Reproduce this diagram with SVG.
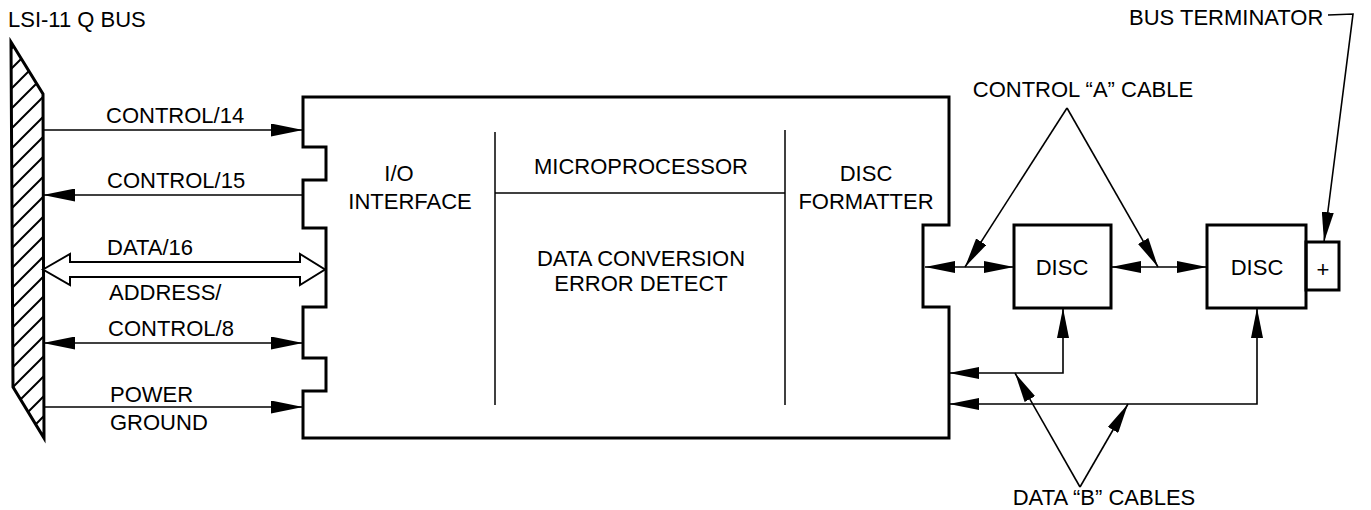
<svg xmlns="http://www.w3.org/2000/svg" width="1371" height="510" viewBox="0 0 1371 510">
<style>
text{font-family:"Liberation Sans",Arial,sans-serif;font-size:22px;fill:#000}
.mid{text-anchor:middle}
.box{fill:none;stroke:#000;stroke-width:3;stroke-linejoin:miter}
.thin{fill:none;stroke:#000;stroke-width:1.5}
.conn{fill:none;stroke:#000;stroke-width:1.6}
</style>
<defs>
<marker id="ah" markerUnits="userSpaceOnUse" markerWidth="32" markerHeight="13" refX="32" refY="6.5" orient="auto-start-reverse"><path d="M0,0 L32,6.5 L0,13 z" fill="#000"/></marker>
<marker id="as" markerUnits="userSpaceOnUse" markerWidth="30" markerHeight="12" refX="30" refY="6" orient="auto-start-reverse"><path d="M0,0 L30,6 L0,12 z" fill="#000"/></marker>
<pattern id="hatch" patternUnits="userSpaceOnUse" width="20" height="20"><path d="M-5,5 L5,-5 M0,20 L20,0 M15,25 L25,15" stroke="#000" stroke-width="2"/></pattern>
<clipPath id="barclip"><polygon points="11,42 43,94 44,438 13,387"/></clipPath>
</defs>

<g id="bus">
<rect x="0" y="40" width="50" height="400" fill="url(#hatch)" clip-path="url(#barclip)"/>
<polygon points="11,42 43,94 44,438 13,387" class="box" stroke-width="2.5"/>
<text x="8" y="27" font-size="21">LSI-11 Q BUS</text>
</g>

<g id="controller">
<path class="box" d="M303,97 H949 V225 H923 V307 H949 V438 H303 V391 H326 V358 H303 V307 H326 V228 H303 V180 H326 V147 H303 Z"/>
<line class="thin" x1="495" y1="132" x2="495" y2="405"/>
<line class="thin" x1="785" y1="130" x2="785" y2="405"/>
<line class="thin" x1="495" y1="193" x2="785" y2="193"/>
<text class="mid" x="399" y="181">I/O</text>
<text class="mid" x="410" y="209">INTERFACE</text>
<text class="mid" x="641" y="174" font-size="21.5">MICROPROCESSOR</text>
<text class="mid" x="641" y="266" font-size="21.5">DATA CONVERSION</text>
<text class="mid" x="641" y="291" font-size="21.5">ERROR DETECT</text>
<text class="mid" x="866" y="181">DISC</text>
<text class="mid" x="866" y="209">FORMATTER</text>
</g>

<g id="disc1">
<rect class="box" x="1014" y="225" width="97" height="83"/>
<text class="mid" x="1062" y="275">DISC</text>
</g>
<g id="disc2">
<rect class="box" x="1207" y="225" width="99" height="83"/>
<text class="mid" x="1257" y="275">DISC</text>
</g>
<g id="terminator">
<rect class="box" x="1306" y="242" width="33" height="48"/>
<text class="mid" x="1323" y="277" font-size="26">+</text>
<text x="1129" y="25" font-size="21">BUS TERMINATOR</text>
</g>

<g id="connectors">
<line class="conn" x1="43" y1="130" x2="303" y2="130" marker-end="url(#ah)"/>
<line class="conn" x1="303" y1="195" x2="43" y2="195" marker-end="url(#ah)"/>
<polygon points="43,269.5 70,254 70,262 300,262 300,254 325,269.5 300,285 300,277 70,277 70,285" fill="#fff" stroke="#000" stroke-width="2" stroke-linejoin="miter"/>
<line class="conn" x1="43" y1="343" x2="303" y2="343" marker-start="url(#ah)" marker-end="url(#ah)"/>
<line class="conn" x1="43" y1="407" x2="303" y2="407" marker-end="url(#ah)"/>

<line class="conn" x1="925" y1="267" x2="1014" y2="267" marker-start="url(#as)" marker-end="url(#as)"/>
<line class="conn" x1="1111" y1="267" x2="1207" y2="267" marker-start="url(#as)" marker-end="url(#as)"/>
<line class="conn" x1="1067" y1="108" x2="965" y2="267" marker-end="url(#as)"/>
<line class="conn" x1="1067" y1="108" x2="1158" y2="267" marker-end="url(#as)"/>

<path class="conn" d="M949,373 H1063 V308" marker-start="url(#as)" marker-end="url(#as)"/>
<path class="conn" d="M949,404 H1257 V308" marker-start="url(#as)" marker-end="url(#as)"/>
<line class="conn" x1="1080" y1="487" x2="1015" y2="373" marker-end="url(#as)"/>
<line class="conn" x1="1080" y1="487" x2="1128" y2="404" marker-end="url(#as)"/>

<polyline class="conn" points="1328,15 1353,14 1324,242" marker-end="url(#as)"/>
</g>

<g id="labels">
<text x="106" y="123">CONTROL/14</text>
<text x="107" y="188">CONTROL/15</text>
<text x="107" y="255">DATA/16</text>
<text x="109" y="300">ADDRESS/</text>
<text x="108" y="336">CONTROL/8</text>
<text x="110" y="402">POWER</text>
<text x="110" y="430">GROUND</text>
<text class="mid" x="1083" y="97" font-size="21">CONTROL “A” CABLE</text>
<text class="mid" x="1104" y="505" font-size="21">DATA “B” CABLES</text>
</g>
</svg>
